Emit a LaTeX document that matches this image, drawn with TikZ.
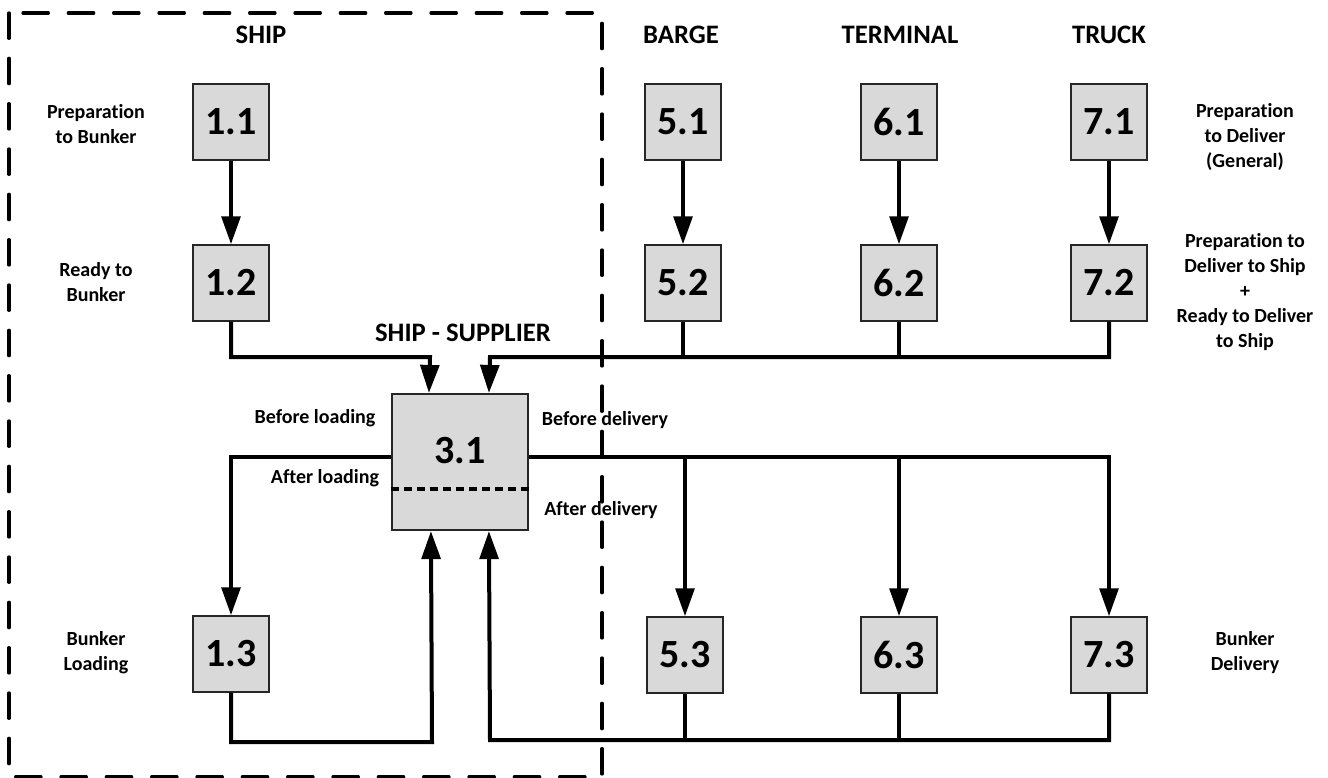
\documentclass[tikz,border=0pt]{standalone}
\usepackage{fontspec}
\setmainfont{Carlito}[Ligatures={NoCommon}]
\usetikzlibrary{arrows.meta,calc}
\begin{document}
\begin{tikzpicture}[x=0.75pt,y=-0.75pt,
  box/.style={draw=black!85,fill={rgb,255:red,217;green,217;blue,217},line width=1.6pt,minimum width=56.5pt,minimum height=56.5pt,inner sep=0pt,font=\fontsize{30}{36}\selectfont\bfseries},
  bigbox/.style={box,minimum width=102pt,minimum height=102pt},
  boxtxt/.style={inner sep=0pt,font=\fontsize{30}{36}\selectfont\bfseries},
  lbl/.style={align=center,font=\fontsize{15}{18.75}\selectfont\bfseries,inner sep=0pt},
  head/.style={font=\fontsize{20}{24}\selectfont\bfseries,inner sep=0pt},
  conn/.style={line width=3pt},
  arr/.style={conn,-{Triangle[length=21pt,width=14pt]}},
  frame/.style={line width=2.5pt,dash pattern=on 19pt off 15pt,line cap=round},
  dotline/.style={line width=3pt,dash pattern=on 6pt off 3.75pt}]
\useasboundingbox (0,0) rectangle (1328,778);

% dashed ship frame
\draw[frame] (9,13) rectangle (602,777);

% headings
\node[head] (hship) at (261,35) {SHIP};
\node[head] (hbarge) at (681,35) {BARGE};
\node[head] (hterm) at (900,35) {TERMINAL};
\node[head] (htruck) at (1109,35) {TRUCK};
\node[head] (hss) at (463,333) {SHIP - SUPPLIER};

% boxes
\node[box] (b11) at (231,122) {1.1};
\node[box] (b12) at (231,283) {1.2};
\node[box] (b13) at (231,654) {1.3};
\node[box] (b51) at (683,122) {5.1};
\node[box] (b52) at (683,283) {5.2};
\node[box] (b53) at (685,655) {5.3};
\node[box] (b61) at (899,122) {6.1};
\node[box] (b62) at (899,283) {6.2};
\node[box] (b63) at (899,655) {6.3};
\node[box] (b71) at (1109,122) {7.1};
\node[box] (b72) at (1109,283) {7.2};
\node[box] (b73) at (1109,655) {7.3};
\node[bigbox] (b31) at (460,462) {};
\node[boxtxt] (t31) at (460,451) {3.1};
\draw[dotline] (b31.west |- 0,489) -- (b31.east |- 0,489);

% side labels
\node[lbl] (l11) at (96,124) {Preparation\\to Bunker};
\node[lbl] (l12) at (96,282) {Ready to\\Bunker};
\node[lbl] (l13) at (96,653) {Bunker\\Loading};
\node[lbl] (r1) at (1245,137) {Preparation\\to Deliver\\(General)};
\node[lbl] (r2) at (1245,292) {Preparation to\\Deliver to Ship\\+\\Ready to Deliver\\to Ship};
\node[lbl] (r3) at (1245,653) {Bunker\\Delivery};
\node[lbl] (bl) at (315,418) {Before loading};
\node[lbl] (al) at (325,478) {After loading};
\node[lbl] (bd) at (605,420) {Before delivery};
\node[lbl] (ad) at (601,510) {After delivery};

% junction coordinates
\coordinate (bus1) at (430,357);
\coordinate (bus2) at (490,357);
\coordinate (in1) at ($(b31.north west)+(38,0)$);
\coordinate (in2) at ($(b31.north west)+(98,0)$);
\coordinate (jL) at (231,457);
\coordinate (jR) at (1109,457);
\coordinate (lp) at (432,742);
\coordinate (bp) at (490,740);
\coordinate (out1) at ($(b31.south west)+(40,0)$);
\coordinate (out2) at ($(b31.south west)+(98,0)$);

% row 1 -> row 2
\draw[arr] (b11) -- (b12);
\draw[arr] (b51) -- (b52);
\draw[arr] (b61) -- (b62);
\draw[arr] (b71) -- (b72);

% row 2 -> 3.1
\draw[arr] (b12.south) |- (bus1) -- (in1);
\draw[arr] (b72.south) |- (bus2) -- (in2);
\draw[conn] (b52.south) -- (b52.south |- bus2);
\draw[conn] (b62.south) -- (b62.south |- bus2);

% 3.1 -> row 3
\draw[arr] (b31.west |- jL) -| (b13.north);
\draw[arr] (b31.east |- jR) -| (b73.north);
\draw[arr] (b53.north |- jR) -- (b53.north);
\draw[arr] (b63.north |- jR) -- (b63.north);

% row 3 -> 3.1
\draw[arr] (b13.south) |- (lp) -- (out1);
\draw[arr] (b73.south) |- (bp) -- (out2);
\draw[conn] (b53.south) -- (b53.south |- bp);
\draw[conn] (b63.south) -- (b63.south |- bp);
\end{tikzpicture}
\end{document}
